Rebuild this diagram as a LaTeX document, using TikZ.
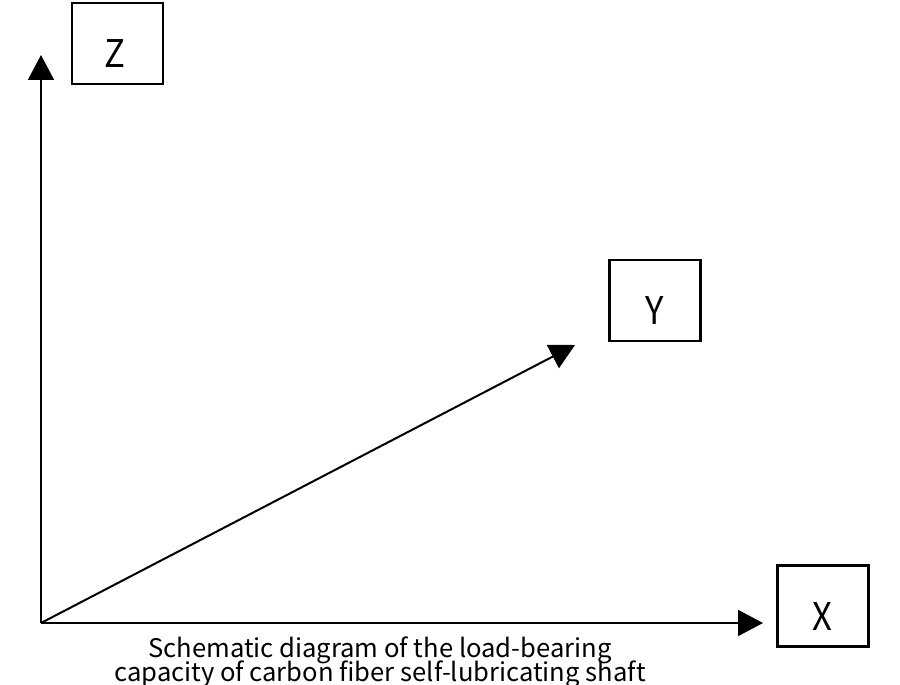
\documentclass[tikz,border=0pt]{standalone}
\usepackage{fontspec}
\setmainfont{Noto Sans CJK SC}
\usetikzlibrary{arrows.meta}
\newcommand{\boxletter}[1]{\raisebox{-18pt}[0pt][0pt]{\scalebox{1}[1.1]{#1}}}
\begin{document}
\begin{tikzpicture}[x=0.75pt,y=-0.75pt,
  axis/.style={line width=1.5pt,-{Triangle[length=18.75pt,width=19.5pt]}},
  lbox/.style={draw,line width=1.9pt,minimum width=68pt,minimum height=60.5pt,inner sep=0pt,font=\fontsize{26}{30}\selectfont},
  caption/.style={align=center,font=\fontsize{19.2}{17.3}\selectfont,inner sep=0pt}]
\useasboundingbox (0,0) rectangle (900,685);
\coordinate (O) at (41,623);
\coordinate (zt) at (41,55);
\coordinate (xt) at (763,623);
\coordinate (yt) at (575,345);
\node[lbox] (Z) at (117.5,43.5) {\hspace*{-4pt}\boxletter{Z}};
\node[lbox] (Y) at (655,300.5) {\boxletter{Y}};
\node[lbox] (X) at (823,606) {\hspace*{-1.5pt}\boxletter{X}};
\draw[axis] (O) -- (zt);
\draw[axis] (O) -- (xt);
\draw[axis] (O) -- (yt);
\node[caption,anchor=base] (cap) at (380,681) {Schematic diagram of the load-bearing\\[-4pt]capacity of carbon fiber self-lubricating shaft};
\end{tikzpicture}
\end{document}
